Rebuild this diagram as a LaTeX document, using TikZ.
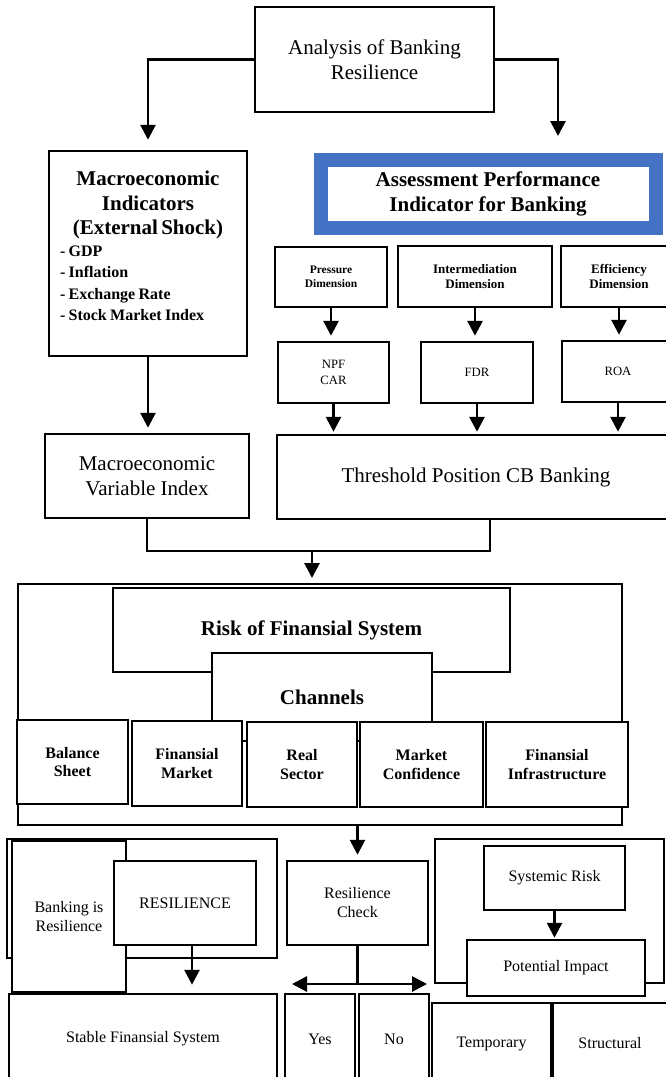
\documentclass[tikz,border=0pt]{standalone}
\usepackage{fontspec}
\setmainfont{Liberation Serif}
\usepackage{xcolor}
\usetikzlibrary{arrows.meta, positioning}
\definecolor{frameblue}{HTML}{4472C4}

\begin{document}
\begin{tikzpicture}[
  x=1pt, y=-1pt,
  box/.style={draw, line width=2.5pt, fill=white, inner sep=2pt, align=center},
  frame/.style={draw, line width=2pt},
  big/.style={font=\fontsize{21}{24.5}\selectfont},
  bigb/.style={font=\fontsize{21}{24.5}\selectfont\bfseries},
  mid/.style={font=\fontsize{16}{19}\selectfont},
  midb/.style={font=\fontsize{16}{18.5}\selectfont\bfseries},
  small/.style={font=\fontsize{12.7}{16}\selectfont},
  dimb/.style={font=\fontsize{13}{15}\selectfont\bfseries},
  arrow/.style={line width=2.8pt, -{Triangle[width=15pt,length=15pt]}},
  twoway/.style={line width=2.8pt, {Triangle[width=15pt,length=15pt]}-{Triangle[width=15pt,length=15pt]}},
  link/.style={line width=2.8pt}
]
\useasboundingbox (0,0) rectangle (665,1077);

% Nodes
\node[box, big, minimum width=239pt, minimum height=105pt] (ana) at (374.5,59.5) {Analysis of Banking\\Resilience};

\node[box, minimum width=198pt, minimum height=205pt] (macro) at (148,253.5) {};
\node[anchor=north, text width=176pt, inner sep=0pt] (macrotxt) at (148,171)
  {\parindent=0pt{\centering\fontsize{21}{24.5}\selectfont\bfseries Macroeconomic\\Indicators\\(External Shock)\par}
   \raggedright\fontsize{16}{21.5}\selectfont\bfseries - GDP\\- Inflation\\- Exchange Rate\\- Stock Market Index\par};

\node[draw=frameblue, line width=14pt, bigb, align=center, inner sep=0pt,
  minimum width=335pt, minimum height=68.5pt] (assess) at (488,193.75) {Assessment Performance\\Indicator for Banking};

\node[box, font=\fontsize{11.5}{14}\selectfont\bfseries, minimum width=112pt, minimum height=60pt] (pres) at (331,277) {Pressure\\Dimension};
\node[box, dimb, minimum width=154pt, minimum height=61pt] (inter) at (475,276.5) {Intermediation\\Dimension};
\node[box, dimb, minimum width=116pt, minimum height=61pt] (effi) at (619,276.5) {Efficiency\\Dimension};

\node[box, small, minimum width=111pt, minimum height=61pt] (npf) at (333.5,372.5) {NPF\\CAR};
\node[box, small, minimum width=112pt, minimum height=61pt] (fdr) at (477,372.5) {FDR};
\node[box, small, minimum width=112pt, minimum height=61pt] (roa) at (618,371.5) {ROA};

\node[box, big, minimum width=204pt, minimum height=84pt] (mvi) at (147,476) {Macroeconomic\\Variable Index};
\node[box, big, minimum width=398pt, minimum height=84pt] (thr) at (476,477) {Threshold Position CB Banking};

% risk of the system
\node[frame, minimum width=604pt, minimum height=241pt] (rsk0) at (320,704.5) {};
\node[box, bigb, minimum width=397pt, minimum height=84pt] (risk) at (311.5,630) {Risk of Finansial System};
\node[box, bigb, minimum width=220pt, minimum height=88pt] (chan) at (322,697) {Channels};

\node[box, midb, minimum width=111pt, minimum height=84pt] (bal) at (72.5,762) {Balance\\Sheet};
\node[box, midb, minimum width=110pt, minimum height=85pt] (fmk) at (187,763.5) {Finansial\\Market};
\node[box, midb, minimum width=110pt, minimum height=85pt] (real) at (302,764.5) {Real\\Sector};
\node[box, midb, minimum width=123pt, minimum height=85pt] (mcf) at (421.5,764.5) {Market\\Confidence};
\node[box, midb, minimum width=142pt, minimum height=85pt] (finf) at (557,764.5) {Finansial\\Infrastructure};

% outcome
\node[frame, line width=2.5pt, minimum width=270pt, minimum height=119pt] (lgrp) at (142,898.5) {};
\node[box, mid, minimum width=114pt, minimum height=151pt] (bank) at (69,916.5) {Banking is\\Resilience};
\node[box, mid, minimum width=142pt, minimum height=84pt] (resil) at (185,903) {RESILIENCE};
\node[box, mid, minimum width=268pt, minimum height=90pt] (stab) at (143,1039) {Stable Finansial System};

\node[box, mid, minimum width=141pt, minimum height=84pt] (rcheck) at (357.5,903) {Resilience\\Check};
\node[box, mid, minimum width=70pt, minimum height=90pt] (yes) at (320,1039) {Yes};
\node[box, mid, minimum width=70pt, minimum height=90pt] (no) at (394,1039) {No};

\node[frame, line width=2.5pt, minimum width=229pt, minimum height=144pt] (rgrp) at (549.5,911) {};
\node[box, mid, minimum width=141pt, minimum height=64pt] (sysr) at (554.5,878) {Systemic Risk};
\node[box, mid, minimum width=178pt, minimum height=56pt] (pimp) at (556,968) {Potential Impact};
\node[box, mid, minimum width=119pt, minimum height=81pt] (temp) at (491.5,1043.5) {Temporary};
\node[box, mid, minimum width=114pt, minimum height=81pt] (strc) at (610,1043.5) {Structural};

\coordinate (asin) at (558,136);
\coordinate (jn) at (312,551);
\coordinate (fkl) at (292,984);
\coordinate (fkr) at (427,984);

% Pointers
\draw[arrow, shorten >=10pt] (ana.west) -| (macro.north);
\draw[arrow] (ana.east) -| (asin);
\draw[arrow, shorten >=5pt] (pres.south) -- (pres.south |- npf.north);
\draw[arrow, shorten >=5pt] (inter.south) -- (inter.south |- fdr.north);
\draw[arrow, shorten >=5pt] (effi.south) -- (effi.south |- roa.north);
\draw[arrow, shorten >=2pt] (npf.south) -- (npf.south |- thr.north);
\draw[arrow, shorten >=2pt] (fdr.south) -- (fdr.south |- thr.north);
\draw[arrow, shorten >=2pt] (roa.south) -- (roa.south |- thr.north);
\draw[arrow, shorten >=5pt] (macro.south) -- (macro.south |- mvi.north);
\draw[link] (mvi.south) |- (jn) -| ([xshift=14pt]thr.south);
\draw[arrow, shorten >=5pt] (jn) -- (jn |- rsk0.north);
\draw[arrow, shorten >=5pt] (rsk0.south -| rcheck.north) -- (rcheck.north);
\draw[arrow, shorten >=8pt] ([xshift=7pt]resil.south) -- ([xshift=7pt]resil.south |- stab.north);
\draw[link] (rcheck.south) -- (rcheck.south |- fkl);
\draw[twoway] (fkl) -- (fkr);
\draw[arrow, shorten >=1pt] (sysr.south) -- (sysr.south |- pimp.north);
\end{tikzpicture}
\end{document}
